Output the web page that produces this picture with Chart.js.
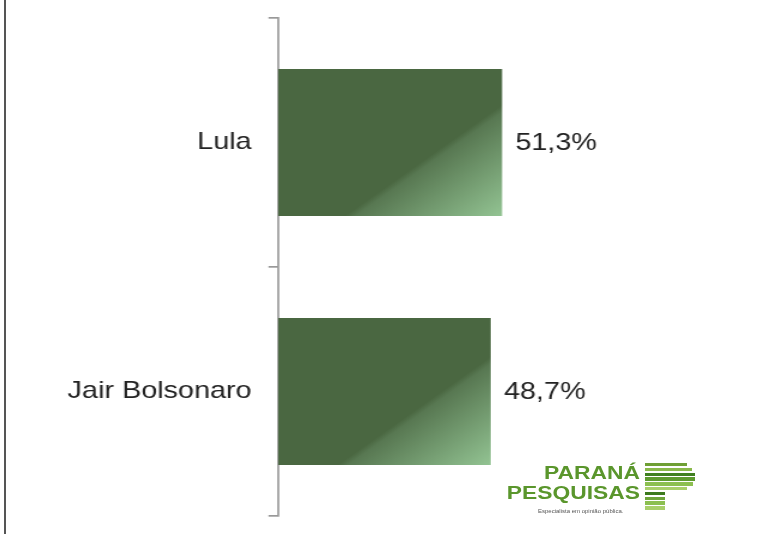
<!DOCTYPE html>
<html>
<head>
<meta charset="utf-8">
<script src="https://cdn.jsdelivr.net/npm/chart.js@4/dist/chart.umd.min.js"></script>
<style>
  html, body { margin: 0; padding: 0; background: #fff; }
  #wrap { position: relative; width: 762px; height: 534px; overflow: hidden; background: #fff; }
  #c { position: absolute; left: 0; top: 0; }
  #leftline { position: absolute; left: 4px; top: 0; width: 2px; height: 534px; background: #555; }
  #logo { position: absolute; left: 0; top: 0; width: 762px; height: 534px; pointer-events: none; }
  .lt { position: absolute; font-family: "Liberation Sans", Arial, sans-serif; font-weight: bold; color: #5a962c; transform: scaleX(1.2); transform-origin: right top; white-space: nowrap; line-height: 1; }
  .stripe { position: absolute; height: 3.4px; left: 645px; }
  .small { position: absolute; font-family: "Liberation Sans", Arial, sans-serif; font-size: 6px; color: #555; white-space: nowrap; }
</style>
</head>
<body>
<div id="wrap">
  <canvas id="c" width="635" height="534" style="width:762px;height:534px"></canvas>
  <div id="leftline"></div>
  <div id="logo"></div>
</div>
<script>
// ---- data ----
const categories = ["Lula", "Jair Bolsonaro"];
const values = [51.3, 48.7];
const valueLabels = ["51,3%", "48,7%"];

// ---- logo (decorative) ----
const logo = document.getElementById('logo');
function addText(txt, right, top, size) {
  const d = document.createElement('div');
  d.className = 'lt';
  d.textContent = txt;
  d.style.right = (762 - right) + 'px';
  d.style.top = top + 'px';
  d.style.fontSize = size + 'px';
  logo.appendChild(d);
}
addText("PARANÁ", 640, 463, 19);
addText("PESQUISAS", 640, 483, 19);
const sm = document.createElement('div');
sm.className = 'small';
sm.textContent = "Especialista em opinião pública.";
sm.style.left = '538px'; sm.style.top = '508px';
logo.appendChild(sm);
const stripeW = [42, 47, 50, 50, 48, 42, 20, 20, 20, 20];
const stripeC = ["#6f9f35", "#8ab84a", "#3f7f20", "#5d9a2e", "#8cbf50", "#a9cf6a", "#3d7a1e", "#6ea43a", "#8cbf50", "#a9cf6a"];
stripeW.forEach((w, i) => {
  const s = document.createElement('div');
  s.className = 'stripe';
  s.style.top = (463 + i * 4.8) + 'px';
  s.style.width = w + 'px';
  s.style.background = stripeC[i];
  logo.appendChild(s);
});

// ---- chart ----
const BAR_PCT = 0.59;
function barGradient(ctx) {
  const chart = ctx.chart;
  if (!chart.chartArea || !chart.scales.x || !chart.scales.y) return '#4a6741';
  const xs = chart.scales.x, ys = chart.scales.y;
  const x0 = xs.getPixelForValue(0);
  const x1 = xs.getPixelForValue(ctx.raw);
  const yc = ys.getPixelForValue(ctx.dataIndex);
  const h = ys.height / categories.length * BAR_PCT;
  const y0 = yc - h / 2;
  const w = x1 - x0;
  const ux = 0.647, uy = 0.763;
  const L = w * ux + h * uy;
  const g = chart.ctx.createLinearGradient(x0, y0, x0 + L * ux, y0 + L * uy);
  g.addColorStop(0, '#4a6741');
  g.addColorStop(0.635, '#4a6741');
  g.addColorStop(0.66, '#587852');
  g.addColorStop(1, '#93c493');
  return g;
}

const valuePlugin = {
  id: 'valueLabels',
  afterDatasetsDraw(chart) {
    const ctx = chart.ctx;
    const meta = chart.getDatasetMeta(0);
    ctx.save();
    ctx.font = '24px "Liberation Sans", Arial, sans-serif';
    ctx.fillStyle = '#222';
    ctx.textAlign = 'left';
    ctx.textBaseline = 'middle';
    meta.data.forEach((bar, i) => {
      ctx.fillText(valueLabels[i], bar.x + 11, bar.y + 1);
    });
    ctx.restore();
  }
};

new Chart(document.getElementById('c'), {
  type: 'bar',
  data: {
    labels: categories,
    datasets: [{
      data: values,
      backgroundColor: barGradient,
      borderWidth: 0,
      barPercentage: BAR_PCT,
      categoryPercentage: 1
    }]
  },
  plugins: [valuePlugin],
  options: {
    indexAxis: 'y',
    responsive: false,
    animation: false,
    events: [],
    layout: { padding: { top: 18, bottom: 18, left: 0, right: 39.4 } },
    plugins: { legend: { display: false }, tooltip: { enabled: false }, title: { display: false } },
    scales: {
      x: { display: false, min: 0, max: 100 },
      y: {
        offset: true,
        afterFit(scale) { scale.width = 231.7; scale.paddingTop = 0; scale.paddingBottom = 0; },
        grid: { offset: true, drawOnChartArea: false, drawTicks: true, tickLength: 8, color: '#999', lineWidth: 1.7 },
        border: { display: true, color: '#999', width: 1.7 },
        ticks: {
          color: '#222',
          padding: 14,
          font: { family: '"Liberation Sans", Arial, sans-serif', size: 24 }
        }
      }
    }
  }
});
</script>
</body>
</html>
